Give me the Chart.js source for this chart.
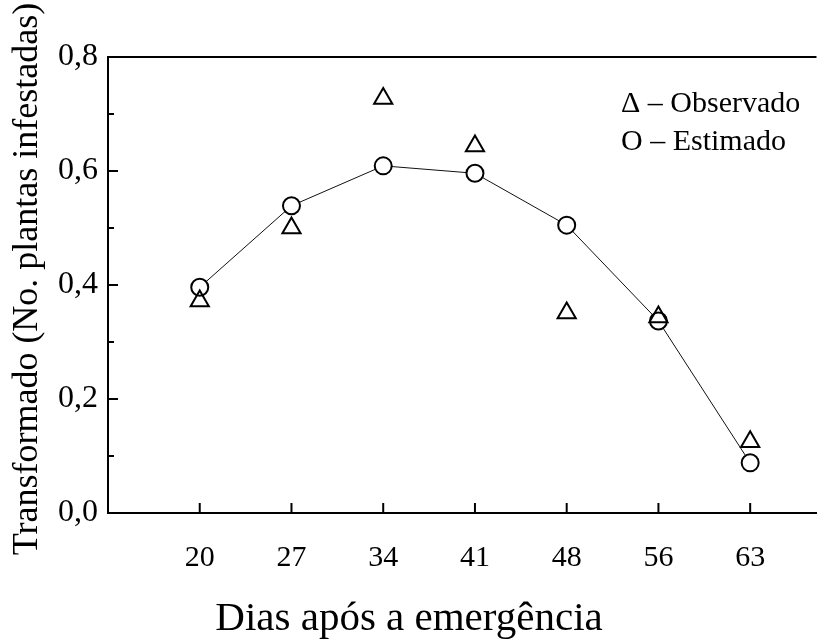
<!DOCTYPE html>
<html>
<head>
<meta charset="utf-8">
<script src="https://cdn.jsdelivr.net/npm/chart.js@4.4.1/dist/chart.umd.min.js"></script>
<style>
html,body{margin:0;padding:0;background:#fff;}
#c{display:block;}
</style>
</head>
<body>
<canvas id="c" width="829" height="641"></canvas>
<script>
// ---- data ----
const categories = ['20', '27', '34', '41', '48', '56', '63'];
const observado = [0.372, 0.500, 0.727, 0.644, 0.351, 0.344, 0.125];
const estimado  = [0.396, 0.539, 0.609, 0.596, 0.505, 0.337, 0.088];
const yMajorTicks = [0, 0.2, 0.4, 0.6, 0.8];
const yMinorTicks = [0.1, 0.3, 0.5, 0.7];
const legendLines = ['\u0394 \u2013 Observado', 'O \u2013 Estimado'];
const xTitle = 'Dias após a emergência';
const yTitle = 'Transformado (No. plantas infestadas)';

const FONT = "'Liberation Serif', 'Times New Roman', serif";

const deco = {
  id: 'deco',
  afterDraw(chart) {
    const {ctx, chartArea: a, scales: {x, y}} = chart;
    ctx.save();
    ctx.strokeStyle = '#000';
    ctx.lineWidth = 2;
    const ln = (x1, y1, x2, y2) => { ctx.beginPath(); ctx.moveTo(x1, y1); ctx.lineTo(x2, y2); ctx.stroke(); };
    // top frame line
    ln(a.left - 1, a.top, a.right, a.top);
    // y ticks (inward)
    yMajorTicks.forEach(v => { const p = y.getPixelForValue(v); ln(a.left, p, a.left + 10, p); });
    yMinorTicks.forEach(v => { const p = y.getPixelForValue(v); ln(a.left, p, a.left + 6, p); });
    // x ticks (inward)
    categories.forEach((c, i) => { const p = x.getPixelForValue(i); ln(p, a.bottom, p, a.bottom - 10); });
    // legend text
    ctx.fillStyle = '#000';
    ctx.font = '30px ' + FONT;
    ctx.textAlign = 'left';
    ctx.textBaseline = 'middle';
    ctx.fillText(legendLines[0], 621, 104);
    ctx.fillText(legendLines[1], 621, 142);
    // axis titles
    ctx.font = '41px ' + FONT;
    ctx.textAlign = 'center';
    ctx.textBaseline = 'alphabetic';
    ctx.fillText(xTitle, 409, 630);
    ctx.save();
    ctx.translate(37, 279);
    ctx.rotate(-Math.PI / 2);
    ctx.font = '36px ' + FONT;
    ctx.textBaseline = 'alphabetic';
    ctx.fillText(yTitle, 0, 0);
    ctx.restore();
    ctx.restore();
  }
};

const noPad = () => ({left: 0, right: 0, top: 0, bottom: 0});

new Chart(document.getElementById('c'), {
  type: 'scatter',
  data: {
    datasets: [
      {
        label: 'Observado',
        data: categories.map((c, i) => ({x: i, y: observado[i]})),
        pointStyle: 'triangle',
        pointRadius: 10.5,
        pointHoverRadius: 10.5,
        pointBorderWidth: 2,
        pointBorderColor: '#000',
        pointBackgroundColor: 'rgba(0,0,0,0)',
        showLine: false
      },
      {
        label: 'Estimado',
        data: categories.map((c, i) => ({x: i, y: estimado[i]})),
        pointStyle: 'circle',
        pointRadius: 8.5,
        pointHoverRadius: 8.5,
        pointBorderWidth: 2,
        pointBorderColor: '#000',
        pointBackgroundColor: '#fff',
        showLine: true,
        borderColor: '#111',
        borderWidth: 1,
        tension: 0
      }
    ]
  },
  options: {
    responsive: false,
    devicePixelRatio: 1,
    animation: false,
    clip: false,
    events: [],
    layout: {padding: {top: 57, right: 0, bottom: 0, left: 0}},
    plugins: {legend: {display: false}, tooltip: {enabled: false}, title: {display: false}},
    scales: {
      x: {
        type: 'linear',
        min: -1,
        max: 6.723,
        afterFit(s) { s.height = 128; s.paddingLeft = 0; s.paddingRight = 0; s.getPadding = noPad; },
        afterBuildTicks(s) { s.ticks = categories.map((c, i) => ({value: i})); },
        grid: {display: false, drawTicks: false},
        border: {display: true, color: '#000', width: 2},
        ticks: {
          padding: 27,
          color: '#000',
          font: {family: FONT, size: 30},
          maxRotation: 0,
          autoSkip: false,
          callback: (v) => categories[v]
        }
      },
      y: {
        min: 0,
        max: 0.8,
        afterFit(s) { s.width = 108; s.paddingTop = 0; s.paddingBottom = 0; s.getPadding = noPad; },
        afterBuildTicks(s) { s.ticks = yMajorTicks.map(v => ({value: v})); },
        grid: {display: false, drawTicks: false},
        border: {display: true, color: '#000', width: 2},
        ticks: {
          padding: 10,
          color: '#000',
          font: {family: FONT, size: 32},
          callback: (v) => v.toFixed(1).replace('.', ',')
        }
      }
    }
  },
  plugins: [deco]
});
</script>
</body>
</html>
